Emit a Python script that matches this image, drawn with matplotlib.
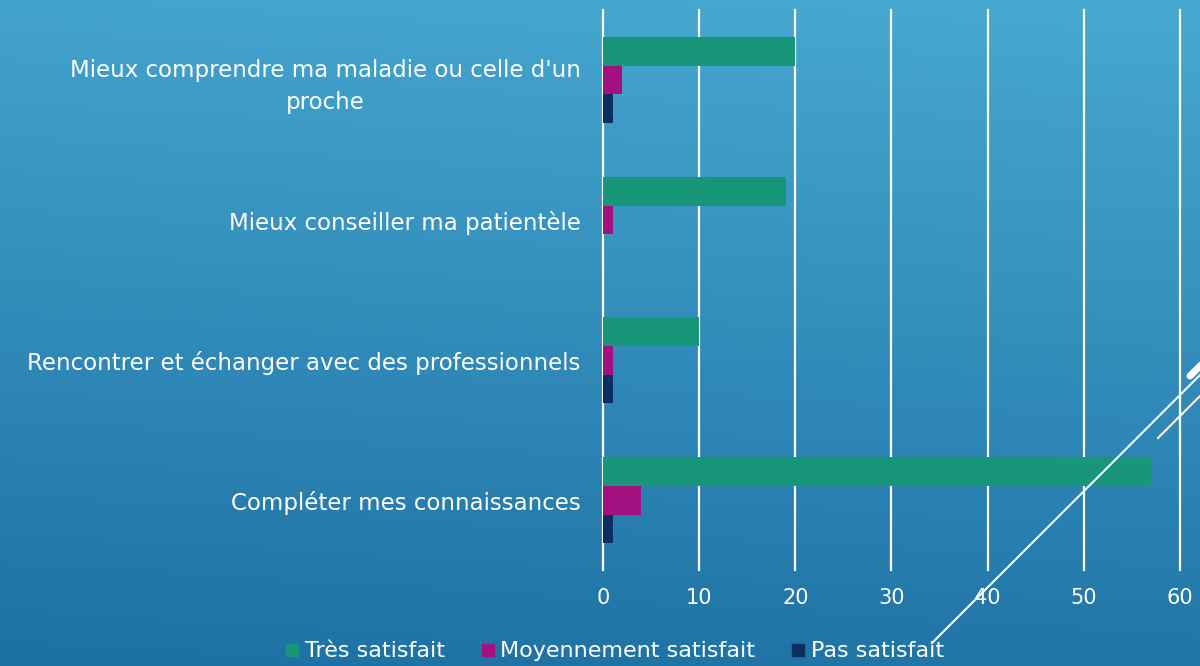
import matplotlib.pyplot as plt
import numpy as np
from matplotlib.lines import Line2D

categories = ["Mieux comprendre ma maladie ou celle d'un\nproche",
              "Mieux conseiller ma patientèle",
              "Rencontrer et échanger avec des professionnels",
              "Compléter mes connaissances"]
series = ["Très satisfait", "Moyennement satisfait", "Pas satisfait"]
tres = [20, 19, 10, 57]
moyen = [2, 1, 1, 4]
pas = [1, 0, 1, 1]
colors = ["#17967a", "#a3107f", "#0b2f5e"]
xticks = [0, 10, 20, 30, 40, 50, 60]

plt.rcParams['font.family'] = ['DejaVu Sans']
FS = 16.5

fig = plt.figure(figsize=(12, 6.66), dpi=100)

# background gradient
bg = fig.add_axes([0, 0, 1, 1], zorder=0)
yy, xx = np.mgrid[0:1:200j, 0:1:200j]
t = np.clip(yy * 0.9 + (1 - xx) * 0.1, 0, 1)
top = np.array([0x47, 0xa9, 0xd2]) / 255
bot = np.array([0x1d, 0x70, 0xa3]) / 255
img = top[None, None, :] * (1 - t[..., None]) + bot[None, None, :] * t[..., None]
bg.imshow(img, aspect='auto', extent=[0, 1, 0, 1], origin='upper')
bg.axis('off')

ax = fig.add_axes([0.5025, 0.1441, 0.4808, 0.8409], zorder=1)
ax.patch.set_alpha(0)

n = len(categories)
pos = np.arange(n)[::-1]
h = 0.207
for i, (vals, c) in enumerate(zip([tres, moyen, pas], colors)):
    ax.barh(pos + h - i * h, vals, height=h, color=c, label=series[i], zorder=3)

ax.set_xlim(0, 60)
ax.set_ylim(-0.5, n - 0.5)
ax.set_xticks(xticks)
ax.set_xticklabels([str(v) for v in xticks], color='white', fontsize=15)
ax.set_yticks(pos)
ax.set_yticklabels(categories, color='white', fontsize=FS, ha='right',
                   ma='center', linespacing=1.45)
ax.tick_params(axis='both', length=0)
ax.tick_params(axis='y', pad=16)
ax.tick_params(axis='x', pad=13)
for s in ax.spines.values():
    s.set_visible(False)
ax.grid(axis='x', color='white', linewidth=1.6, zorder=1)
for gl in ax.get_xgridlines():
    gl.set_clip_on(False)
ax.set_axisbelow(True)

handles = [Line2D([], [], marker='s', linestyle='', markersize=9,
                  color=c) for c in colors]
fig.legend(handles, series, loc='center', bbox_to_anchor=(0.51, 0.022),
           ncol=3, frameon=False, fontsize=16, labelcolor='white',
           handletextpad=0.0, columnspacing=1.4, handlelength=1.1)

# decorative slide lines
deco = fig.add_axes([0, 0, 1, 1], zorder=2)
deco.set_xlim(0, 1200)
deco.set_ylim(666, 0)
deco.axis('off')
deco.plot([932, 1200], [643, 375], color='white', lw=1.5)
deco.plot([1158, 1200], [438, 396], color='white', lw=1.5)
deco.plot([1190, 1205], [376, 361], color='white', lw=5, solid_capstyle='round')

fig.savefig('out.png', dpi=100)
